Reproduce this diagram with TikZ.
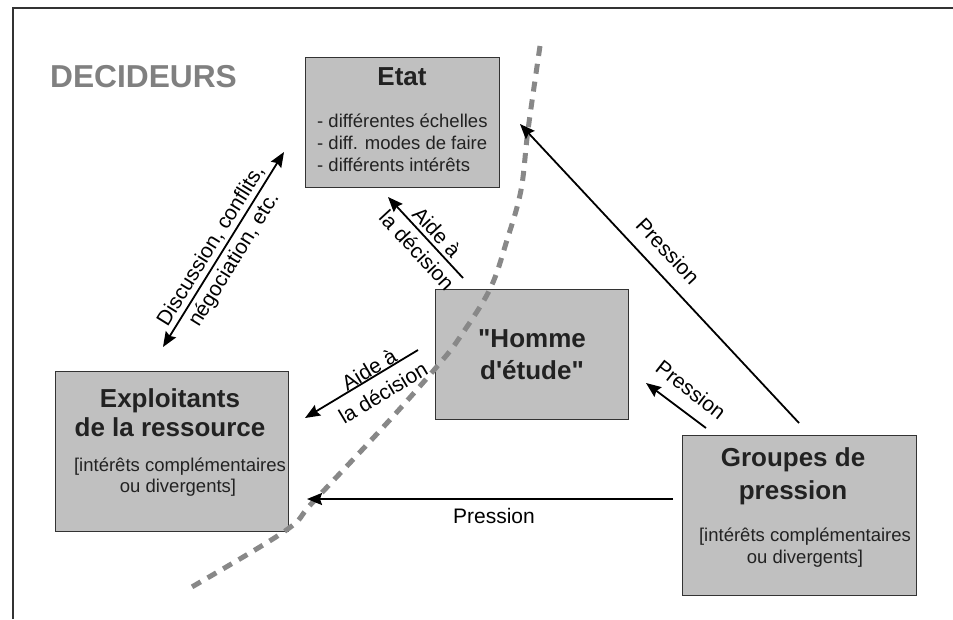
\documentclass[tikz,border=0pt]{standalone}
\usepackage{fontspec}
\setmainfont{Liberation Sans}[Ligatures=TeXOff]
\usetikzlibrary{arrows.meta}
\definecolor{boxgray}{HTML}{C0C0C0}
\definecolor{ink}{HTML}{222222}
\definecolor{edge}{HTML}{333333}
\definecolor{dashgray}{HTML}{888888}
\definecolor{headgray}{HTML}{808080}
\begin{document}
\begin{tikzpicture}[x=1pt,y=-1pt,
  box/.style={draw=edge, line width=1.2pt, fill=boxgray, inner sep=0pt, anchor=north west},
  title/.style={font=\fontsize{26}{32}\selectfont\bfseries, text=ink, inner sep=0pt, anchor=base},
  body/.style={font=\fontsize{18.5}{22}\selectfont, text=ink, inner sep=0pt},
  lab/.style={font=\fontsize{21}{27}\selectfont, text=black, inner sep=0pt, align=center},
  arr/.style={line width=1.8pt, -{Stealth[length=15pt,width=12pt,inset=2pt]}},
  dblarr/.style={line width=1.8pt, {Stealth[length=15pt,width=12pt,inset=2pt]}-{Stealth[length=15pt,width=12pt,inset=2pt]}},
  frontier/.style={draw=dashgray, line width=5pt, dash pattern=on 10pt off 8pt}
]
\useasboundingbox (0,0) rectangle (953,619);

% outer frame (top and left edges)
\draw[edge, line width=1.5pt] (13,619) -- (13,8) -- (953,8);

% heading
\node[font=\fontsize{31.7}{36}\selectfont\bfseries, text=headgray, inner sep=0pt, anchor=base west]
  (decideurs) at (50,87) {DECIDEURS};

% boxes
\node[box, minimum width=194pt, minimum height=130pt] (etat) at (305,57) {};
\node[box, minimum width=193pt, minimum height=130pt] (homme) at (435,289) {};
\node[box, minimum width=233pt, minimum height=160pt] (exploit) at (55,371) {};
\node[box, minimum width=234pt, minimum height=160pt] (groupes) at (682,435) {};

% frontier between deciders and the rest
\draw[frontier] plot[smooth, tension=0.6] coordinates
  {(540,46) (528,130) (521,190) (507,240) (490,289) (460,337) (440,363) (387,423) (313,502) (285,531) (190,588)};

% box texts
\node[title] (etatT) at (402,85) {Etat};
\node[body, anchor=base west] (etat1) at (317,127) {- différentes échelles};
\node[body, anchor=base west] (etat2) at (317,149) {- diff. modes de faire};
\node[body, anchor=base west] (etat3) at (317,171) {- différents intérêts};

\node[title] (hommeT1) at (532,347) {"Homme};
\node[title] (hommeT2) at (532,379) {d'étude"};

\node[title] (exploitT1) at (170,407) {Exploitants};
\node[title] (exploitT2) at (170,436) {de la ressource};
\node[body, anchor=base] (exploit1) at (180,471) {[intérêts complémentaires};
\node[body, anchor=base] (exploit2) at (178,492) {ou divergents]};

\node[title] (groupesT1) at (793,466) {Groupes de};
\node[title] (groupesT2) at (793,499) {pression};
\node[body, anchor=base] (groupes1) at (805,541) {[intérêts complémentaires};
\node[body, anchor=base] (groupes2) at (805,563) {ou divergents]};

% connector ends
\coordinate (discA) at (163,347);
\coordinate (discB) at (284,152);
\coordinate (aideEs) at (463,278);
\coordinate (aideEe) at (388,197);
\coordinate (aideXs) at (418,350);
\coordinate (aideXe) at (305,418);
\coordinate (presEs) at (799,423);
\coordinate (presEe) at (520,124);
\coordinate (presHs) at (706,428);
\coordinate (presHe) at (646,383);
\coordinate (presXs) at (673,499);
\coordinate (presXe) at (307,499);

% connectors
\draw[dblarr] (discA) -- (discB);
\node[lab, rotate=58.2] (discL) at (223,253) {Discussion, conflits,\\négociation, etc.};

\draw[arr] (aideEs) -- (aideEe);
\node[lab, rotate=-47.2] (aideEL) at (427,241) {Aide à\\la décision};

\draw[arr] (aideXs) -- (aideXe);
\node[lab, rotate=31] (aideXL) at (376,381) {Aide à\\la décision};

\draw[arr] (presEs) -- (presEe);
\node[lab, rotate=-47] (presEL) at (668,251) {Pression};

\draw[arr] (presHs) -- (presHe);
\node[lab, rotate=-38] (presHL) at (691,390) {Pression};

\draw[arr] (presXs) -- (presXe);
\node[lab, anchor=base] (presXL) at (494,523) {Pression};
\end{tikzpicture}
\end{document}
